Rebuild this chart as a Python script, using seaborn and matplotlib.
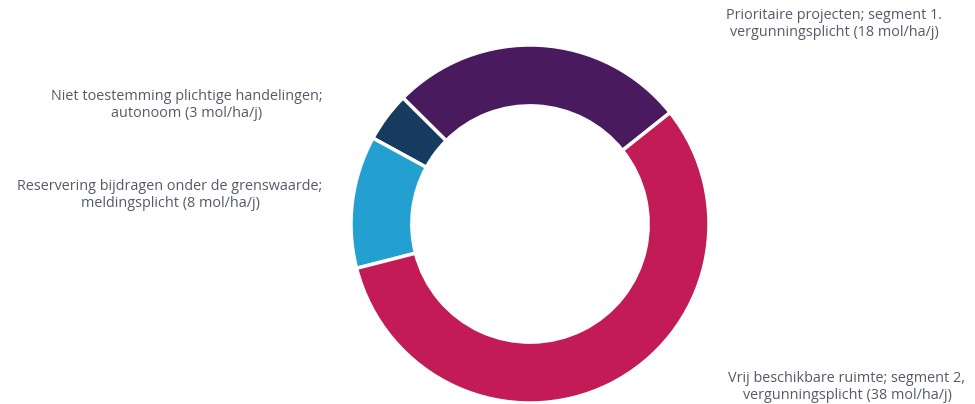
"""
Donut chart: verdeling depositieruimte (mol/ha/j).
"""
import seaborn as sns
import matplotlib.pyplot as plt

# Data, in drawing order (counter clockwise from the upper right).
labels = [
    "Prioritaire projecten; segment 1.\nvergunningsplicht (18 mol/ha/j)",
    "Niet toestemming plichtige handelingen;\nautonoom (3 mol/ha/j)",
    "Reservering bijdragen onder de grenswaarde;\nmeldingsplicht (8 mol/ha/j)",
    "Vrij beschikbare ruimte; segment 2,\nvergunningsplicht (38 mol/ha/j)",
]
values = [18, 3, 8, 38]
colors = ["#4a1a5e", "#173b5e", "#24a0d0", "#c21b56"]

# Label anchors in figure pixels (x, y from bottom).
label_pos = [(834, 380), (187, 299), (170, 209), (847, 17)]

W, H = 975, 404

sns.set_theme(style="white")
plt.rcParams["font.family"] = ["Open Sans", "DejaVu Sans"]

fig = plt.figure(figsize=(W / 100, H / 100), dpi=100)

# Square axes holding the ring: center (530, 224), radius 179 px.
cx, cy, r = 530, 224, 179
ax = fig.add_axes([(cx - r) / W, (H - cy - r) / H, 2 * r / W, 2 * r / H])

palette = sns.color_palette(colors)
ax.pie(values, colors=palette, startangle=38.5, counterclock=True,
       radius=1, wedgeprops=dict(width=0.34, edgecolor="white", linewidth=2.5))
ax.set_xlim(-1, 1)
ax.set_ylim(-1, 1)
ax.axis("off")

# Labels.
for txt, (x, y) in zip(labels, label_pos):
    fig.text(x / W, y / H, txt, ha="center", va="center",
             multialignment="center", fontsize=10.4, color="#555a68",
             linespacing=1.16)

plt.savefig("out.png", dpi=100)
